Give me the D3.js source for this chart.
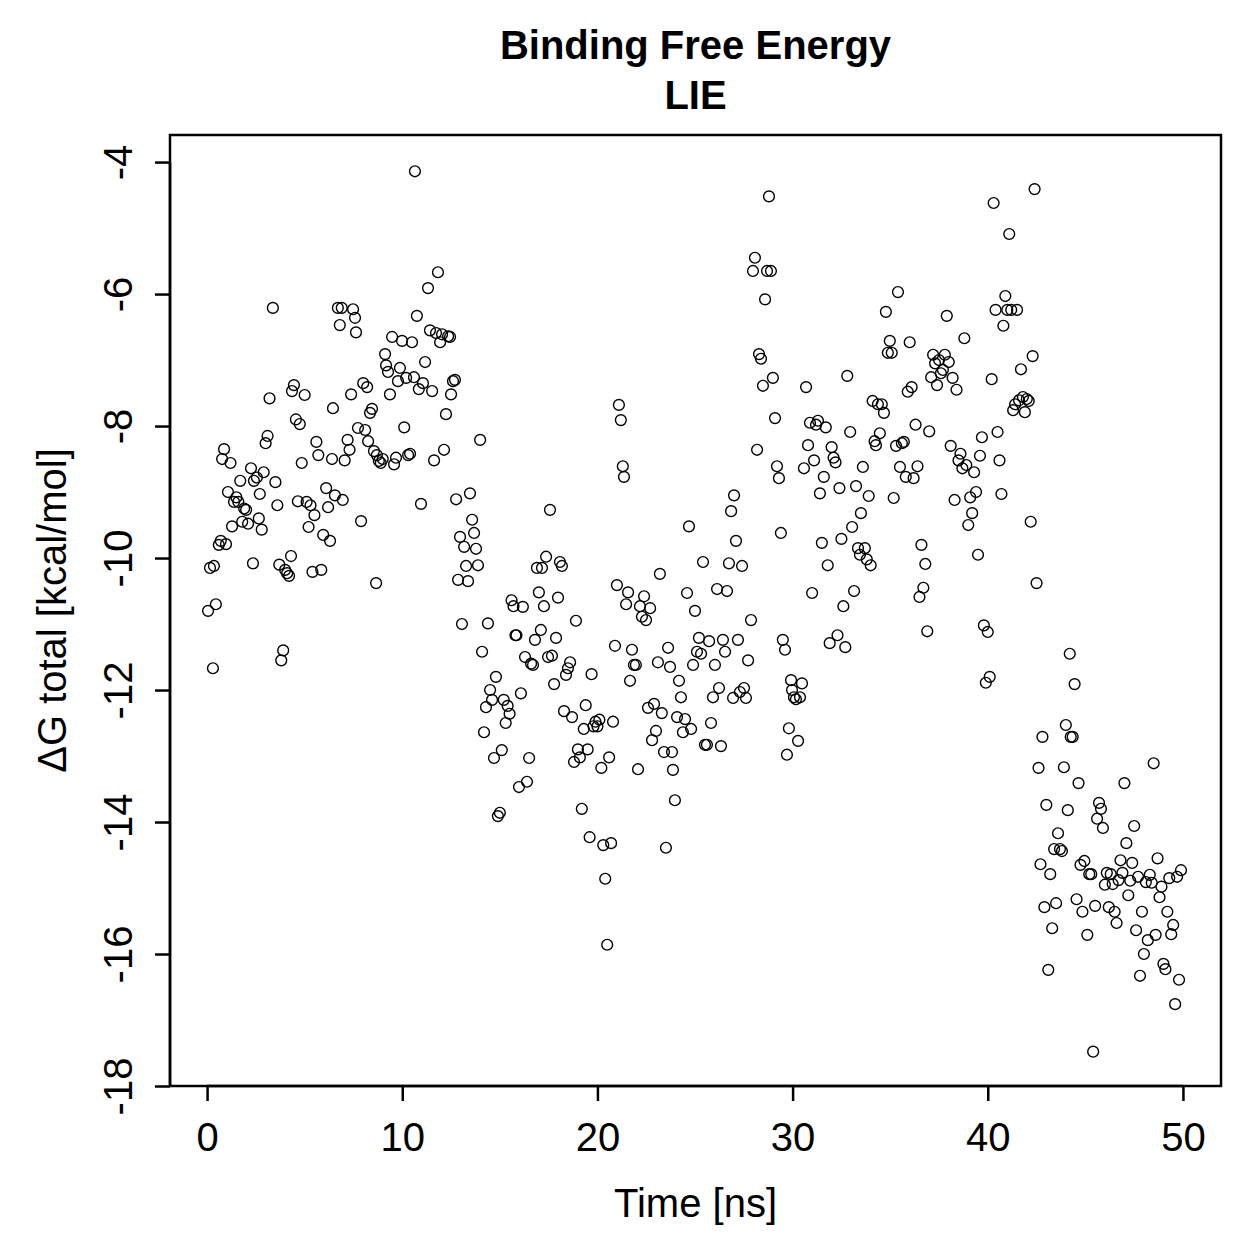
<!DOCTYPE html>
<html>
<head>
<meta charset="utf-8">
<script src="https://cdn.jsdelivr.net/npm/d3@7.9.0/dist/d3.min.js"></script>
<style>
  body { margin: 0; background: #fff; }
  svg text { font-family: "Liberation Sans", Arial, sans-serif; fill: #000; }
</style>
</head>
<body>
<svg id="chart" width="1259" height="1259"></svg>
<script>
// [time (ns), dG total (kcal/mol)]
const pts0to10 = [
  [0.05,-10.8],[0.15,-10.15],[0.3,-11.67],[0.35,-10.12],[0.45,-10.7],[0.6,-9.8],[0.7,-9.74],[0.77,-8.5],[0.87,-8.35],[0.97,-9.79],
  [1.07,-9.0],[1.2,-8.56],[1.28,-9.52],[1.38,-9.15],[1.5,-9.08],[1.6,-9.15],[1.7,-8.83],[1.8,-9.45],[1.9,-9.25],[2.0,-9.27],
  [2.1,-9.48],[2.25,-8.64],[2.35,-10.08],[2.4,-8.83],[2.55,-8.78],[2.65,-9.4],[2.7,-9.03],[2.8,-9.57],[2.9,-8.7],[3.0,-8.26],
  [3.1,-8.15],[3.2,-7.58],[3.37,-6.21],[3.5,-8.85],[3.6,-9.2],[3.7,-10.1],[3.8,-11.55],[3.9,-11.4],[4.0,-10.18],[4.1,-10.23],
  [4.2,-10.27],[4.3,-9.97],[4.35,-7.47],[4.45,-7.38],[4.55,-7.9],[4.65,-9.14],[4.75,-7.97],[4.85,-8.56],[5.0,-7.53],
  [5.1,-9.15],[5.2,-9.53],[5.3,-9.2],[5.4,-10.21],[5.5,-9.35],[5.6,-8.24],[5.7,-8.44],[5.85,-10.18],[5.95,-9.65],[6.1,-8.94],
  [6.2,-9.23],[6.3,-9.74],[6.4,-8.5],[6.45,-7.73],[6.55,-9.05],[6.7,-6.21],[6.8,-6.47],[6.9,-6.21],[6.95,-9.12],[7.05,-8.52],
  [7.2,-8.21],[7.3,-8.36],[7.38,-7.52],[7.48,-6.23],[7.58,-6.36],[7.63,-6.58],[7.73,-8.03],[7.89,-9.44],[8.0,-7.35],[8.1,-8.06],
  [8.2,-7.41],[8.25,-8.23],[8.35,-7.8],[8.45,-7.74],[8.55,-8.38],[8.66,-10.38],[8.7,-8.44],[8.8,-8.53],[8.9,-8.56],[9.0,-8.5],
  [9.12,-6.91],[9.17,-7.08],[9.27,-7.18],[9.37,-7.52],[9.48,-6.65],[9.58,-8.58],[9.68,-8.48],[9.78,-7.32],[9.88,-7.12],[9.99,-6.71]
];
const pts10to20 = [
  [10.1,-8.02],[10.2,-7.27],[10.3,-8.44],[10.4,-8.42],[10.5,-6.73],[10.6,-7.26],[10.65,-4.14],[10.75,-6.33],[10.85,-7.44],[10.96,-9.18],
  [11.06,-7.35],[11.17,-7.03],[11.32,-5.91],[11.42,-6.55],[11.53,-7.47],[11.63,-8.52],[11.73,-6.59],[11.83,-5.67],[11.94,-6.73],[12.04,-6.61],
  [12.14,-8.36],[12.24,-7.82],[12.35,-6.64],[12.45,-6.65],[12.5,-7.52],[12.6,-7.32],[12.7,-7.3],[12.76,-9.11],[12.86,-10.33],[12.96,-9.68],
  [13.06,-11.0],[13.17,-9.83],[13.27,-10.12],[13.37,-10.35],[13.47,-9.02],[13.58,-9.42],[13.68,-9.62],[13.78,-9.86],[13.88,-10.11],[13.99,-8.21],
  [14.09,-11.42],[14.19,-12.64],[14.29,-12.26],[14.39,-10.99],[14.5,-12.0],[14.6,-12.15],[14.7,-13.03],[14.8,-11.8],[14.9,-13.91],[15.0,-13.86],
  [15.1,-12.91],[15.2,-12.15],[15.3,-12.5],[15.4,-12.24],[15.5,-12.36],[15.6,-10.64],[15.7,-10.73],[15.8,-11.17],[15.85,-11.17],[15.98,-13.47],
  [16.08,-12.05],[16.18,-10.74],[16.29,-11.5],[16.39,-13.39],[16.5,-13.03],[16.6,-11.6],[16.7,-11.62],[16.8,-11.24],[16.9,-10.15],[17.0,-10.52],
  [17.1,-11.09],[17.16,-10.15],[17.26,-10.73],[17.37,-9.98],[17.47,-11.5],[17.57,-9.27],[17.67,-11.48],[17.78,-11.91],[17.88,-11.21],[17.98,-10.6],
  [18.08,-10.06],[18.18,-10.12],[18.29,-12.32],[18.39,-11.77],[18.49,-11.67],[18.6,-11.58],[18.7,-12.41],[18.8,-13.09],[18.9,-10.95],[19.0,-12.9],
  [19.1,-13.02],[19.2,-13.8],[19.3,-12.59],[19.4,-12.23],[19.5,-12.9],[19.6,-14.23],[19.7,-11.76],[19.8,-12.55],[19.9,-12.48],[20.0,-12.55]
];
const pts20to30 = [
  [20.1,-12.45],[20.2,-13.18],[20.3,-14.35],[20.4,-14.86],[20.5,-15.86],[20.6,-13.02],[20.7,-14.32],[20.8,-12.48],[20.9,-11.33],[21.0,-10.41],
  [21.1,-7.68],[21.2,-7.91],[21.3,-8.61],[21.36,-8.77],[21.47,-10.7],[21.57,-10.52],[21.67,-11.86],[21.77,-11.39],[21.87,-11.62],[21.97,-11.62],
  [22.08,-13.2],[22.18,-10.73],[22.28,-10.89],[22.39,-10.58],[22.49,-10.94],[22.59,-12.27],[22.7,-10.76],[22.8,-12.76],[22.9,-12.21],[23.0,-12.62],
  [23.1,-11.58],[23.2,-10.24],[23.3,-12.35],[23.41,-12.94],[23.51,-14.39],[23.62,-11.36],[23.72,-11.65],[23.82,-12.94],[23.87,-13.21],[23.97,-13.67],
  [24.08,-12.41],[24.18,-11.86],[24.28,-12.11],[24.38,-12.64],[24.49,-12.44],[24.59,-10.53],[24.69,-9.52],[24.8,-12.59],[24.9,-11.62],[25.0,-10.8],
  [25.1,-11.42],[25.2,-11.21],[25.31,-11.45],[25.41,-10.06],[25.51,-12.83],[25.61,-12.83],[25.72,-11.26],[25.82,-12.5],[25.92,-12.11],[26.02,-11.62],
  [26.13,-10.47],[26.23,-11.97],[26.33,-12.85],[26.43,-11.24],[26.54,-11.42],[26.64,-10.5],[26.74,-10.08],[26.85,-9.29],[26.95,-12.12],[27.0,-9.05],
  [27.1,-9.74],[27.2,-11.24],[27.3,-12.03],[27.41,-10.12],[27.51,-11.97],[27.61,-12.12],[27.72,-11.55],[27.87,-10.94],[27.97,-5.65],[28.07,-5.45],
  [28.18,-8.36],[28.28,-6.91],[28.38,-6.98],[28.48,-7.39],[28.59,-6.08],[28.69,-5.65],[28.79,-4.52],[28.89,-5.65],[28.99,-7.27],[29.1,-7.88],
  [29.2,-8.61],[29.3,-8.79],[29.4,-9.62],[29.5,-11.24],[29.61,-11.39],[29.71,-12.98],[29.81,-12.58],[29.92,-11.85],[29.97,-12.0],[30.07,-12.11]
];
const pts30to40 = [
  [30.17,-12.14],[30.28,-12.77],[30.38,-12.11],[30.48,-11.9],[30.58,-8.64],[30.69,-7.41],[30.79,-8.29],[30.89,-7.95],[31.0,-10.53],[31.1,-8.52],
  [31.2,-7.98],[31.3,-7.92],[31.4,-9.02],[31.5,-9.77],[31.6,-8.77],[31.7,-8.02],[31.8,-10.11],[31.9,-11.29],[32.0,-8.32],[32.1,-8.48],
  [32.2,-8.55],[32.3,-11.17],[32.4,-8.94],[32.5,-9.71],[32.6,-10.73],[32.7,-11.35],[32.8,-7.24],[32.95,-8.09],[33.05,-9.53],[33.15,-10.5],
  [33.25,-8.91],[33.35,-9.85],[33.45,-9.95],[33.5,-9.32],[33.6,-8.62],[33.7,-9.85],[33.8,-10.02],[33.9,-9.06],[34.0,-10.11],[34.1,-7.62],
  [34.2,-8.23],[34.27,-8.29],[34.37,-7.67],[34.47,-8.11],[34.57,-7.67],[34.68,-7.8],[34.78,-6.27],[34.88,-6.89],[34.98,-6.71],[35.08,-6.89],
  [35.18,-9.09],[35.3,-8.3],[35.4,-5.97],[35.5,-8.62],[35.6,-8.26],[35.7,-8.24],[35.8,-8.77],[35.9,-7.48],[36.0,-6.73],[36.1,-7.41],
  [36.2,-8.79],[36.3,-7.98],[36.4,-8.61],[36.5,-10.59],[36.6,-9.8],[36.7,-10.45],[36.8,-10.09],[36.9,-11.11],[37.0,-8.08],[37.1,-7.26],
  [37.2,-6.92],[37.3,-7.05],[37.4,-7.38],[37.5,-7.0],[37.6,-7.2],[37.7,-7.15],[37.8,-6.92],[37.9,-6.33],[38.0,-7.03],[38.1,-8.3],
  [38.2,-7.27],[38.3,-9.12],[38.4,-7.45],[38.5,-8.52],[38.6,-8.42],[38.7,-8.64],[38.8,-6.67],[38.9,-8.59],[39.0,-9.5],[39.1,-9.08],
  [39.2,-9.32],[39.3,-8.7],[39.4,-9.0],[39.5,-9.95],[39.6,-8.45],[39.7,-8.17],[39.8,-11.02],[39.9,-11.89],[40.0,-11.12],[40.1,-11.8]
];
const pts40to50 = [
  [40.2,-7.29],[40.3,-4.62],[40.4,-6.24],[40.5,-8.09],[40.6,-8.52],[40.7,-9.03],[40.8,-6.48],[40.9,-6.03],[41.0,-6.24],[41.1,-5.09],
  [41.2,-6.24],[41.3,-7.76],[41.4,-7.67],[41.5,-6.24],[41.6,-7.61],[41.7,-7.14],[41.8,-7.56],[41.9,-7.79],[42.0,-7.59],[42.1,-7.62],
  [42.2,-9.45],[42.3,-6.94],[42.4,-4.41],[42.5,-10.38],[42.6,-13.18],[42.7,-14.64],[42.8,-12.71],[42.9,-15.29],[43.0,-13.74],[43.1,-16.24],
  [43.2,-14.79],[43.3,-15.61],[43.4,-14.41],[43.5,-15.23],[43.6,-14.17],[43.7,-14.41],[43.8,-14.44],[43.9,-13.17],[44.0,-12.53],[44.1,-13.82],
  [44.2,-11.45],[44.25,-12.71],[44.35,-12.71],[44.45,-11.91],[44.55,-15.17],[44.65,-13.41],[44.75,-14.65],[44.85,-15.36],[44.95,-14.59],[45.1,-15.71],
  [45.2,-14.79],[45.3,-14.79],[45.4,-17.48],[45.5,-15.27],[45.6,-13.95],[45.7,-13.71],[45.8,-13.8],[45.9,-14.09],[46.0,-14.95],[46.1,-14.77],
  [46.2,-15.29],[46.3,-14.79],[46.4,-14.94],[46.5,-15.36],[46.6,-15.53],[46.7,-14.88],[46.8,-14.58],[46.9,-14.77],[47.0,-13.41],[47.1,-14.32],
  [47.2,-15.11],[47.3,-14.89],[47.4,-14.62],[47.5,-14.06],[47.6,-15.64],[47.7,-14.83],[47.8,-16.33],[47.9,-15.36],[48.0,-16.0],[48.1,-14.91],
  [48.2,-15.79],[48.3,-14.8],[48.4,-14.92],[48.5,-13.11],[48.6,-15.71],[48.7,-14.55],[48.8,-15.14],[48.9,-14.98],[49.0,-16.15],[49.1,-16.23],
  [49.2,-15.36],[49.3,-14.85],[49.4,-15.7],[49.5,-15.56],[49.6,-16.76],[49.7,-14.83],[49.8,-16.39],[49.9,-14.73]
];

const xTicks = [0, 10, 20, 30, 40, 50];
const yTicks = [-4, -6, -8, -10, -12, -14, -16, -18];

const data = [...pts0to10, ...pts10to20, ...pts20to30, ...pts30to40, ...pts40to50];

const svg = d3.select('#chart');
const box = { left: 170, right: 1221, top: 135, bottom: 1086 };

const x = d3.scaleLinear().domain([-1.9, 51.95]).range([box.left, box.right]);
const y = d3.scaleLinear().domain([-18, -3.59]).range([box.bottom, box.top]);

// points
svg.append('g')
  .selectAll('circle')
  .data(data)
  .join('circle')
  .attr('cx', d => x(d[0]))
  .attr('cy', d => y(d[1]))
  .attr('r', 5.4)
  .attr('fill', 'none')
  .attr('stroke', '#000')
  .attr('stroke-width', 1.4);

// frame
svg.append('rect')
  .attr('x', box.left).attr('y', box.top)
  .attr('width', box.right - box.left).attr('height', box.bottom - box.top)
  .attr('fill', 'none').attr('stroke', '#000').attr('stroke-width', 2.5);

// x axis
const xAxis = svg.append('g')
  .attr('transform', `translate(0,${box.bottom})`)
  .call(d3.axisBottom(x).tickValues(xTicks).tickSize(15).tickPadding(22).tickSizeOuter(0));
xAxis.select('.domain').attr('d', `M${x(0)},0H${x(50)}`).attr('stroke-width', 2.5);
xAxis.selectAll('.tick line').attr('stroke-width', 2.5);
xAxis.selectAll('.tick text')
  .style('font-family', '"Liberation Sans", Arial, sans-serif')
  .style('font-size', '40px').attr('fill', '#000');

// y axis
const yAxis = svg.append('g')
  .attr('transform', `translate(${box.left},0)`)
  .call(d3.axisLeft(y).tickValues(yTicks).tickSize(15).tickFormat(d3.format('d')));
yAxis.select('.domain').attr('d', `M0,${y(-4)}V${y(-18)}`).attr('stroke-width', 2.5);
yAxis.selectAll('.tick line').attr('stroke-width', 2.5);
yAxis.selectAll('.tick text')
  .attr('x', null).attr('dy', null)
  .attr('transform', 'translate(-52,0) rotate(-90)')
  .attr('text-anchor', 'middle')
  .attr('dominant-baseline', 'central')
  .style('font-family', '"Liberation Sans", Arial, sans-serif')
  .style('font-size', '40px').attr('fill', '#000')
  .text(d => d < 0 ? '-' + Math.abs(d) : d);

// titles
svg.append('text')
  .attr('x', (box.left + box.right) / 2).attr('y', 59)
  .attr('text-anchor', 'middle')
  .style('font-size', '40px').style('font-weight', 'bold')
  .text('Binding Free Energy');
svg.append('text')
  .attr('x', (box.left + box.right) / 2).attr('y', 109)
  .attr('text-anchor', 'middle')
  .style('font-size', '40px').style('font-weight', 'bold')
  .text('LIE');

svg.append('text')
  .attr('x', (box.left + box.right) / 2).attr('y', 1217)
  .attr('text-anchor', 'middle')
  .style('font-size', '40px')
  .text('Time [ns]');

svg.append('text')
  .attr('transform', `translate(66,${(box.top + box.bottom) / 2}) rotate(-90)`)
  .attr('text-anchor', 'middle')
  .style('font-size', '40px')
  .text('ΔG total [kcal/mol]');
</script>
</body>
</html>
